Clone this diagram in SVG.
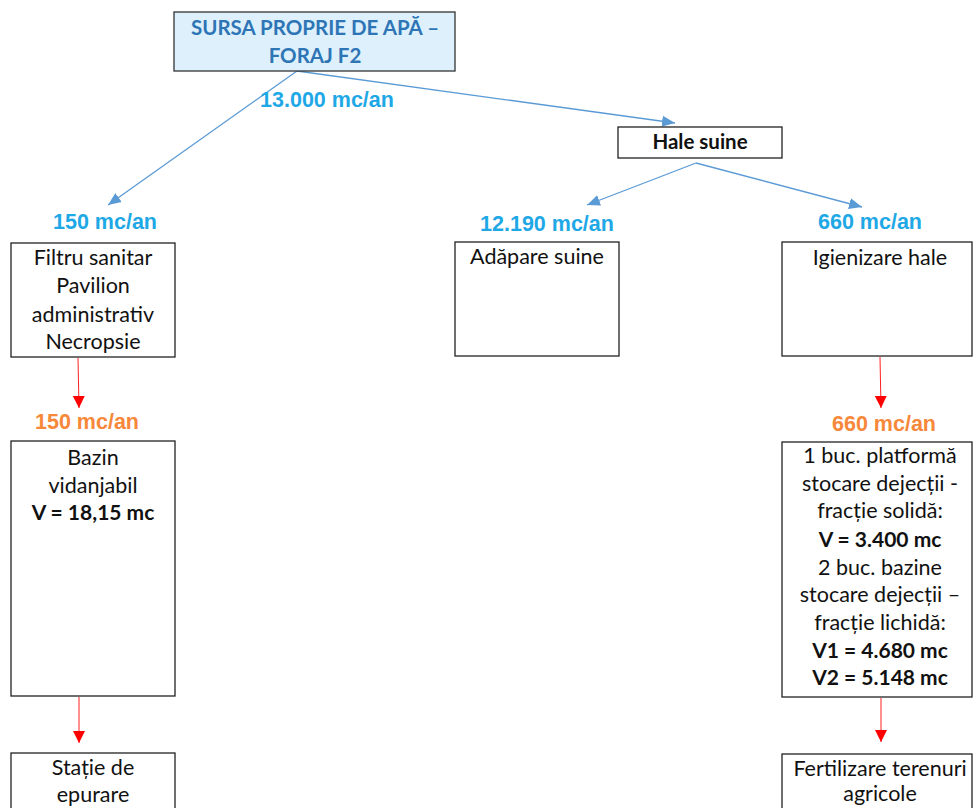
<svg xmlns="http://www.w3.org/2000/svg" width="973" height="808" viewBox="0 0 973 808">
<style>
.box{fill:#fff;stroke:#222;stroke-width:1.3}
.t{font-family:Lato,"Open Sans","Liberation Sans",sans-serif;font-size:21.5px;fill:#111;text-anchor:middle}
.b{font-weight:bold;font-size:21px}
.lbl{font-family:"Liberation Sans",Arial,sans-serif;font-weight:bold;font-size:21.5px;text-anchor:middle}
.blue{fill:#1fa8e6}
.orange{fill:#f7883a}
.cb{stroke:#5b9bd5;stroke-width:1.3;fill:none}
.cr{stroke:#ff2020;stroke-width:1;fill:none}
</style>
<defs>
<marker id="ab" markerUnits="userSpaceOnUse" markerWidth="14" markerHeight="12" refX="13" refY="6" orient="auto"><path d="M0,0.5 L13,6 L0,11.5 z" fill="#5b9bd5"/></marker>
<marker id="ar" markerUnits="userSpaceOnUse" markerWidth="13" markerHeight="14" refX="12" refY="6.5" orient="auto"><path d="M0,0.5 L12,6.5 L0,12.5 z" fill="#ff0000"/></marker>
</defs>
<rect width="973" height="808" fill="#fff"/>
<g id="connectors">
<line class="cb" x1="297" y1="71" x2="108" y2="205" marker-end="url(#ab)"/>
<line class="cb" x1="297" y1="71" x2="675" y2="123" marker-end="url(#ab)"/>
<line class="cb" x1="696" y1="163" x2="587" y2="205" marker-end="url(#ab)"/>
<line class="cb" x1="696" y1="163" x2="862" y2="207" marker-end="url(#ab)"/>
<line class="cr" x1="78" y1="358" x2="79" y2="408" marker-end="url(#ar)"/>
<line class="cr" x1="79" y1="697" x2="79" y2="743" marker-end="url(#ar)"/>
<line class="cr" x1="880" y1="357" x2="881" y2="408" marker-end="url(#ar)"/>
<line class="cr" x1="881" y1="698" x2="881" y2="742" marker-end="url(#ar)"/>
</g>
<g id="labels">
<text class="lbl blue" x="327" y="107">13.000 mc/an</text>
<text class="lbl blue" x="105" y="229">150 mc/an</text>
<text class="lbl blue" x="547" y="231">12.190 mc/an</text>
<text class="lbl blue" x="870" y="229">660 mc/an</text>
<text class="lbl orange" x="87" y="429">150 mc/an</text>
<text class="lbl orange" x="884" y="431">660 mc/an</text>
</g>
<g id="sursa">
<rect x="174" y="12" width="281" height="59" fill="#ddf0fc" stroke="#333" stroke-width="1.3"/>
<text class="t b" x="315" y="35" style="fill:#2e75b6;font-size:20.5px">SURSA PROPRIE DE APĂ –</text>
<text class="t b" x="315" y="63" style="fill:#2e75b6;font-size:20.5px">FORAJ F2</text>
</g>
<g id="hale">
<rect class="box" x="618" y="127" width="164" height="31"/>
<text class="t b" x="700" y="149" style="font-size:20.5px">Hale suine</text>
</g>
<g id="filtru">
<rect class="box" x="11" y="243" width="164" height="114"/>
<text class="t" x="93" y="265">Filtru sanitar</text>
<text class="t" x="93" y="293">Pavilion</text>
<text class="t" x="93" y="322">administrativ</text>
<text class="t" x="93" y="349">Necropsie</text>
</g>
<g id="bazin">
<rect class="box" x="11" y="441" width="164" height="255"/>
<text class="t" x="93" y="465">Bazin</text>
<text class="t" x="93" y="493">vidanjabil</text>
<text class="t b" x="93" y="520">V = 18,15 mc</text>
</g>
<g id="statie">
<rect class="box" x="11" y="753" width="164" height="70"/>
<text class="t" x="93" y="775">Stație de</text>
<text class="t" x="93" y="802">epurare</text>
</g>
<g id="adapare">
<rect class="box" x="455" y="242" width="164" height="114"/>
<text class="t" x="537" y="264">Adăpare suine</text>
</g>
<g id="igienizare">
<rect class="box" x="782" y="242" width="190" height="114"/>
<text class="t" x="880" y="265">Igienizare hale</text>
</g>
<g id="stocare">
<rect class="box" x="782" y="442" width="190" height="255"/>
<text class="t" x="880" y="463">1 buc. platformă</text>
<text class="t" x="880" y="491">stocare dejecții -</text>
<text class="t" x="880" y="518">fracție solidă:</text>
<text class="t b" x="880" y="547">V = 3.400 mc</text>
<text class="t" x="880" y="575">2 buc. bazine</text>
<text class="t" x="880" y="602">stocare dejecții –</text>
<text class="t" x="880" y="630">fracție lichidă:</text>
<text class="t b" x="880" y="658">V1 = 4.680 mc</text>
<text class="t b" x="880" y="685">V2 = 5.148 mc</text>
</g>
<g id="fertilizare">
<rect class="box" x="782" y="754" width="190" height="70"/>
<text class="t" x="880" y="776">Fertilizare terenuri</text>
<text class="t" x="880" y="801">agricole</text>
</g>
</svg>
